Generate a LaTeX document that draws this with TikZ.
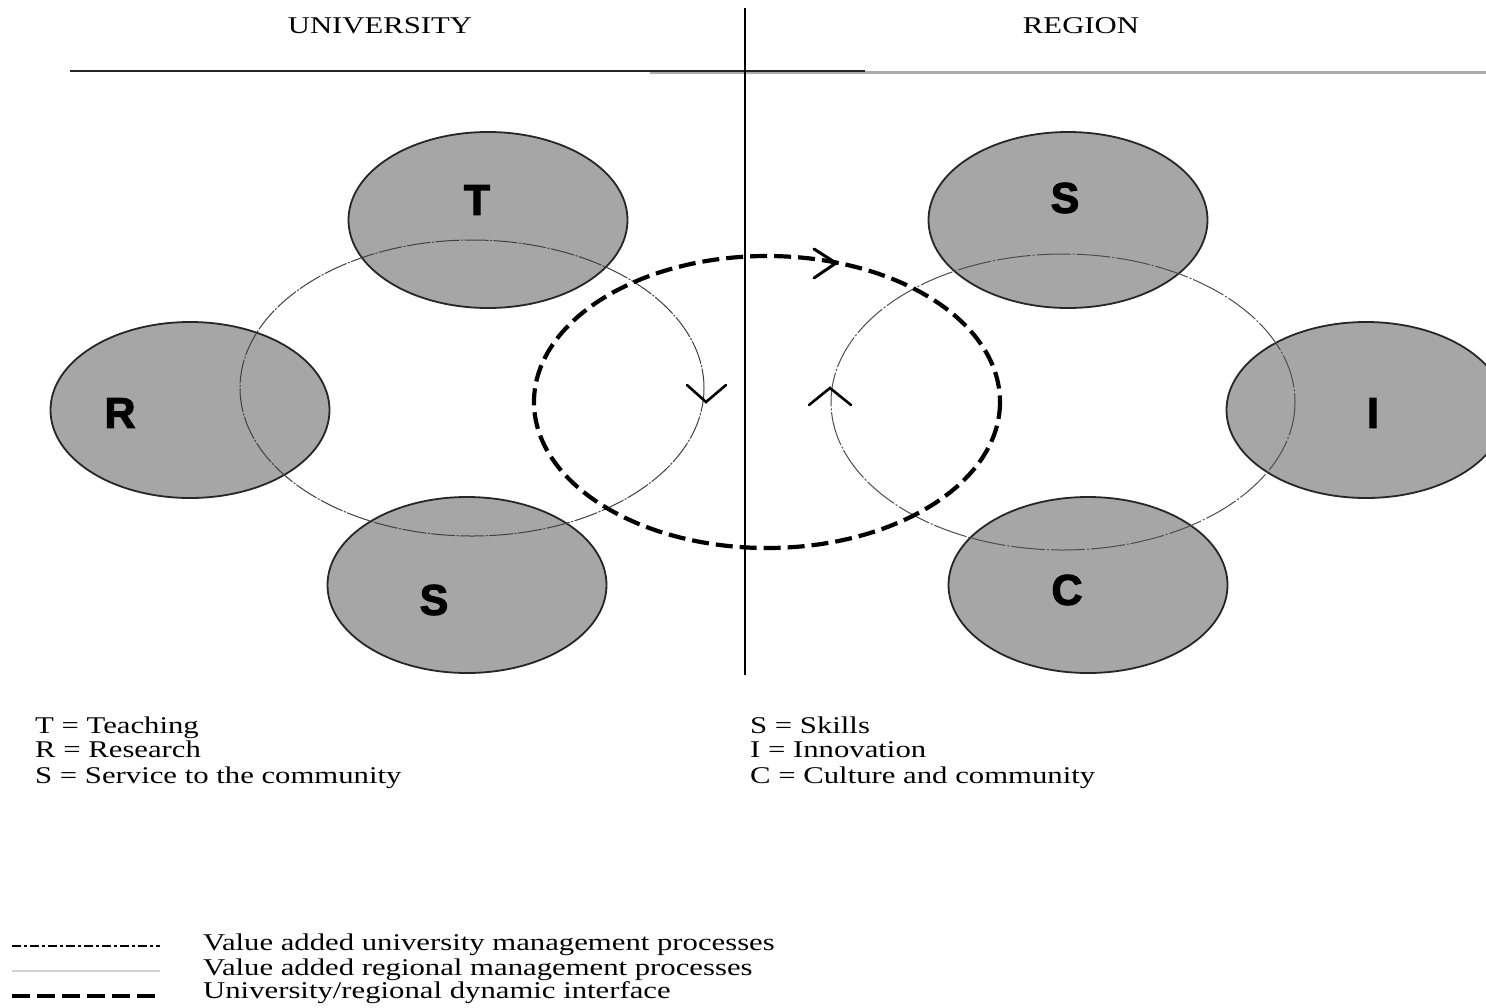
\documentclass[tikz,border=0pt]{standalone}
\usepackage{fontspec}
\setmainfont{Liberation Serif}
\newfontfamily\letterfont{Liberation Sans}[BoldFeatures={FakeBold=2.5}]
\usetikzlibrary{shapes.geometric}
\definecolor{ellgray}{gray}{0.65}
\tikzset{
  blob/.style={ellipse, draw=black!85, line width=1.8pt, fill=ellgray,
    minimum width=279pt, minimum height=176pt, inner sep=0pt},
  letter/.style={font=\letterfont\bfseries\fontsize{43}{43}\selectfont, text=black},
  unicycle/.style={draw=black!75, line width=1pt, dash pattern=on 24pt off 1.5pt on 2pt off 1.5pt},
  regcycle/.style={draw=black!70, line width=1pt, dash pattern=on 34pt off 2pt on 2pt off 2pt},
  interface/.style={draw=black, line width=4.2pt, dash pattern=on 17pt off 7pt},
  chevron/.style={draw=black, line width=2.6pt, line cap=round, line join=miter},
  txt/.style={anchor=base west, inner sep=0pt, font=\fontsize{24}{25}\selectfont},
  title/.style={anchor=base, inner sep=0pt, font=\fontsize{24}{25}\selectfont}
}
\newcommand{\wide}[1]{\scalebox{1.28}[1]{#1}}
\begin{document}
\begin{tikzpicture}[x=1pt,y=-1pt]
\useasboundingbox (0,0) rectangle (1486,1007);
\clip (0,0) rectangle (1486,1007);
\fill[white] (0,0) rectangle (1486,1007);

% titles and frame lines
\node[title] (tu) at (380,33) {\wide{UNIVERSITY}};
\node[title] (tr) at (1081,33) {\wide{REGION}};
\coordinate (hg1) at (650,72);
\coordinate (hg2) at (1486,72);
\coordinate (hb1) at (70,71);
\coordinate (hb2) at (865,71);
\draw[gray!65, line width=3pt] (hg1) -- (hg2);
\draw[black!85, line width=2.5pt] (hb1) -- (hb2);

% gray ellipses
\node[blob] (eT) at (488,220) {};
\node[blob] (eR) at (190,410) {};
\node[blob] (eS) at (467,585) {};
\node[blob] (eS2) at (1068,220) {};
\node[blob] (eI) at (1366,410) {};
\node[blob] (eC) at (1088,585) {};

\node[letter] (lT) at (477,200) {T};
\node[letter] (lR) at (120,413) {R};
\node[letter] (lS) at (434,600) {S};
\node[letter] (lS2) at (1065,198) {S};
\node[letter] (lI) at (1373,413) {I};
\node[letter] (lC) at (1067,590) {C};

% process cycles
\coordinate (cu) at (472,388);
\coordinate (cr) at (1063,402);
\coordinate (cd) at (767,402);
\draw[unicycle] (cu) ellipse [x radius=232, y radius=148];
\draw[regcycle] (cr) ellipse [x radius=232, y radius=148];
\draw[interface] (cd) ellipse [x radius=233, y radius=146];

% vertical divider
\coordinate (v1) at (745,8);
\coordinate (v2) at (745,675);
\draw[black, line width=1.6pt] (v1) -- (v2);

% arrowheads
\coordinate (a1) at (706,402);
\coordinate (a2) at (830,388);
\coordinate (a3) at (836,263);
\draw[chevron] ([shift={(-19,-17)}]a1) -- (a1) -- ([shift={(20,-17)}]a1);
\draw[chevron] ([shift={(-21,17)}]a2) -- (a2) -- ([shift={(21,17)}]a2);
\draw[chevron, line width=3pt] ([shift={(-22,-14)}]a3) -- (a3) -- ([shift={(-22,15)}]a3);

% keys
\node[txt] (k1) at (35,733) {\wide{T = Teaching}};
\node[txt] (k2) at (35,757) {\wide{R = Research}};
\node[txt] (k3) at (35,783) {\wide{S = Service to the community}};
\node[txt] (k4) at (750,733) {\wide{S = Skills}};
\node[txt] (k5) at (750,757) {\wide{I = Innovation}};
\node[txt] (k6) at (750,783) {\wide{C = Culture and community}};

% line legend
\coordinate (l1a) at (12,946); \coordinate (l1b) at (160,946);
\coordinate (l2a) at (12,971); \coordinate (l2b) at (160,971);
\coordinate (l3a) at (12,996); \coordinate (l3b) at (160,996);
\draw[black, line width=1.6pt, dash pattern=on 9pt off 3pt on 3pt off 3pt] (l1a) -- (l1b);
\draw[gray!35, line width=1.8pt] (l2a) -- (l2b);
\draw[black, line width=4.5pt, dash pattern=on 18pt off 7pt] (l3a) -- (l3b);
\node[txt] (g1) at (203,950) {\wide{Value added university management processes}};
\node[txt] (g2) at (203,975) {\wide{Value added regional management processes}};
\node[txt] (g3) at (203,998) {\wide{University/regional dynamic interface}};
\end{tikzpicture}
\end{document}
